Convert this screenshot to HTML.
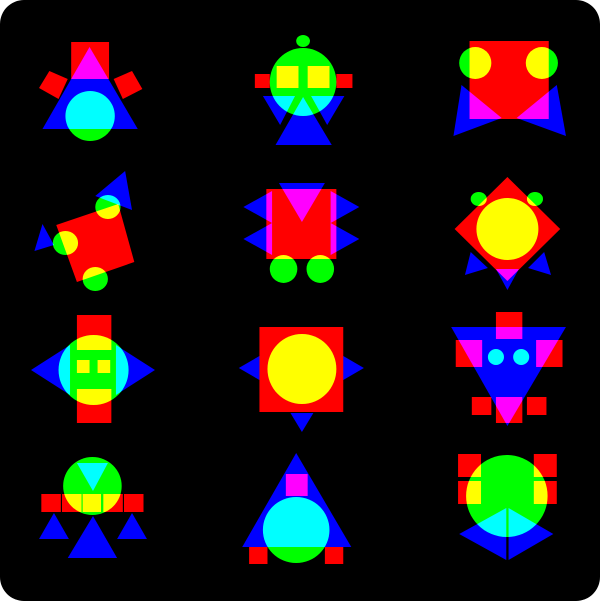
<!DOCTYPE html>
<html><head><meta charset="utf-8"><style>
html,body{margin:0;padding:0;background:#fff;}
svg{display:block}
svg polygon, svg rect.s, svg ellipse, svg circle{mix-blend-mode:screen}
</style></head><body>
<svg width="600" height="601" viewBox="0 0 600 601" style="isolation:isolate">
<rect x="0" y="0" width="600" height="601" rx="24" fill="#000"/>
<g transform="scale(1.148,1)">
<g fill="#f00">
 <rect class="s" x="62" y="42" width="33" height="37"/>
 <polygon points="78,47 120,129 37,129" fill="#00f"/>
 <polygon points="34,88 43,71 59,79 51,99"/>
 <polygon points="99,79 115,71 124,89 107,99"/>
 <ellipse cx="78.5" cy="116" rx="21.5" ry="25" fill="#0f0"/>
</g>
<g fill="#f00">
 <circle cx="264" cy="41" r="6" fill="#0f0"/>
 <ellipse cx="264" cy="82" rx="29" ry="34" fill="#0f0"/>
 <rect class="s" x="222" y="74" width="13" height="14"/>
 <rect class="s" x="293" y="74" width="14" height="14"/>
 <rect class="s" x="241" y="66" width="19" height="22"/>
 <rect class="s" x="268" y="66" width="19" height="22"/>
 <polygon points="229,96 257,96 244,125" fill="#00f"/>
 <polygon points="271,96 300,96 285,125" fill="#00f"/>
 <polygon points="264,97 289,145 240,145" fill="#00f"/>
</g>
<g fill="#f00">
 <rect class="s" x="409" y="41" width="69" height="78"/>
 <ellipse cx="414" cy="63" rx="14" ry="16" fill="#0f0"/>
 <ellipse cx="472" cy="63" rx="14" ry="16" fill="#0f0"/>
 <polygon points="402,85 437,118 395,136" fill="#00f"/>
 <polygon points="485,85 450,118 493,136" fill="#00f"/>
</g>
<g fill="#f00">
 <polygon points="49,225 103,204 117,262 67,282"/>
 <polygon points="83,196 109,171 115,210" fill="#00f"/>
 <polygon points="37,224 47,245 30,251" fill="#00f"/>
 <ellipse cx="94" cy="207" rx="11" ry="12" fill="#0f0"/>
 <ellipse cx="57" cy="243" rx="11" ry="12" fill="#0f0"/>
 <ellipse cx="83" cy="279" rx="11" ry="12" fill="#0f0"/>
</g>
<g fill="#f00">
 <rect class="s" x="232" y="189" width="61" height="70"/>
 <polygon points="243,183 283,183 263,222" fill="#00f"/>
 <polygon points="212,207 237,191 237,223" fill="#00f"/>
 <polygon points="212,239 237,223 237,255" fill="#00f"/>
 <polygon points="313,207 288,191 288,223" fill="#00f"/>
 <polygon points="313,239 288,223 288,255" fill="#00f"/>
 <ellipse cx="247" cy="269" rx="12" ry="14" fill="#0f0"/>
 <ellipse cx="279" cy="269" rx="12" ry="14" fill="#0f0"/>
</g>
<g fill="#f00">
 <polygon points="442,177 488,229 442,281 396,229"/>
 <ellipse cx="442" cy="229" rx="27" ry="31" fill="#0f0"/>
 <circle cx="417" cy="199" r="7" fill="#0f0"/>
 <circle cx="466" cy="199" r="7" fill="#0f0"/>
 <polygon points="410,252 425,268 405,275" fill="#00f"/>
 <polygon points="474,252 460,268 480,275" fill="#00f"/>
 <polygon points="432,269 452,269 442,290" fill="#00f"/>
</g>
<g fill="#f00">
 <rect class="s" x="67" y="315" width="30" height="35"/>
 <rect class="s" x="67" y="389" width="30" height="34"/>
 <polygon points="27,370 61,345 61,395" fill="#00f"/>
 <polygon points="135,370 101,345 101,395" fill="#00f"/>
 <ellipse cx="81.5" cy="370" rx="30.5" ry="35" fill="#0f0"/>
 <rect class="s" x="67" y="360" width="11" height="13"/>
 <rect class="s" x="85" y="360" width="11" height="13"/>
</g>
<g fill="#f00">
 <polygon points="208,368 226,356 226,380" fill="#00f"/>
 <polygon points="317,368 299,356 299,380" fill="#00f"/>
 <rect class="s" x="226" y="327" width="73" height="85"/>
 <ellipse cx="263" cy="369" rx="30" ry="35" fill="#0f0"/>
 <polygon points="253,413 273,413 263,432" fill="#00f"/>
</g>
<g fill="#f00">
 <polygon points="393,327 493,327 442,426" fill="#00f"/>
 <rect class="s" x="432" y="312" width="23" height="27"/>
 <rect class="s" x="397" y="340" width="23" height="27"/>
 <rect class="s" x="467" y="340" width="23" height="27"/>
 <rect class="s" x="411" y="397" width="17" height="18"/>
 <rect class="s" x="459" y="397" width="17" height="18"/>
 <rect class="s" x="432" y="397" width="23" height="26"/>
 <ellipse cx="432" cy="357" rx="7" ry="8" fill="#0f0"/>
 <ellipse cx="454" cy="357" rx="7" ry="8" fill="#0f0"/>
</g>
<g fill="#f00">
 <ellipse cx="80.5" cy="486" rx="25.5" ry="29" fill="#0f0"/>
 <polygon points="67,463 94,463 81,491" fill="#00f"/>
 <rect class="s" x="36" y="494" width="17" height="18"/>
 <rect class="s" x="54" y="494" width="17" height="18"/>
 <rect class="s" x="72" y="494" width="16" height="18"/>
 <rect class="s" x="90" y="494" width="17" height="18"/>
 <rect class="s" x="108" y="494" width="17" height="18"/>
 <polygon points="47,513 60,539 34,539" fill="#00f"/>
 <polygon points="115,513 128,539 102,539" fill="#00f"/>
 <polygon points="81,516 102,558 59,558" fill="#00f"/>
</g>
<g fill="#f00">
 <polygon points="258,453 306,547 211,547" fill="#00f"/>
 <rect class="s" x="249" y="474" width="19" height="22"/>
 <ellipse cx="258" cy="530" rx="29" ry="33" fill="#0f0"/>
 <rect class="s" x="217" y="547" width="16" height="17"/>
 <rect class="s" x="283" y="547" width="16" height="17"/>
</g>
<g fill="#f00">
 <rect class="s" x="399" y="454" width="20" height="23"/>
 <rect class="s" x="399" y="481" width="20" height="23"/>
 <rect class="s" x="465" y="454" width="20" height="23"/>
 <rect class="s" x="465" y="481" width="20" height="23"/>
 <ellipse cx="441.5" cy="496" rx="35.5" ry="41" fill="#0f0"/>
 <polygon points="400,534 441,508 441,560" fill="#00f"/>
 <polygon points="482,534 443,508 443,560" fill="#00f"/>
</g>
</g>
</svg>
</body></html>
